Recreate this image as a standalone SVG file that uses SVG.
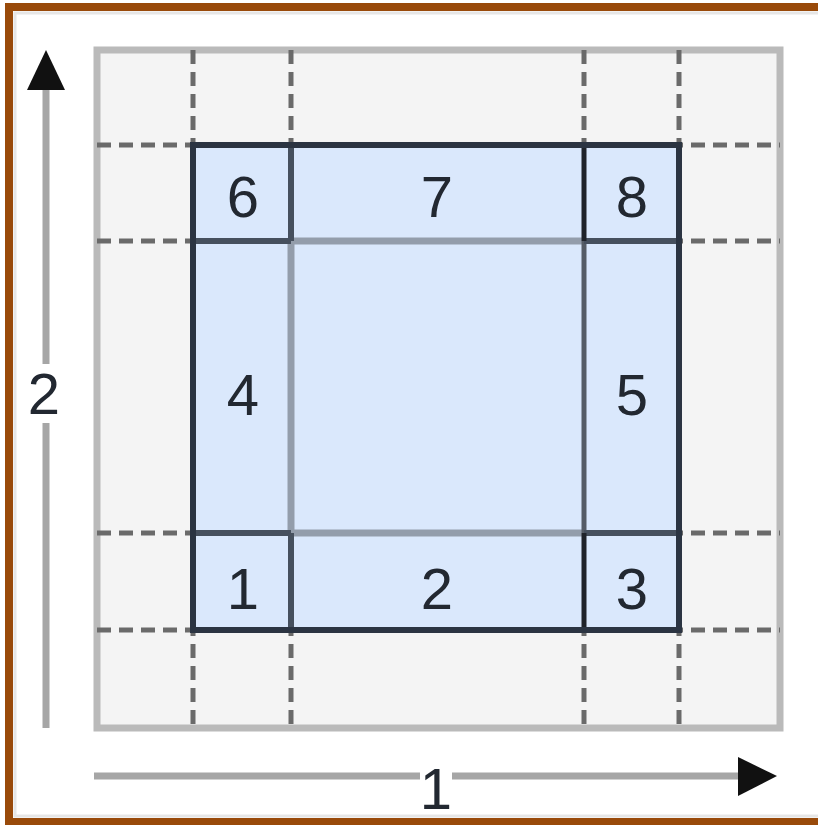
<svg xmlns="http://www.w3.org/2000/svg" width="818" height="825" viewBox="0 0 818 825">
  <defs>
    <style>
      .lbl { font-family: "Liberation Sans", Arial, sans-serif; font-size: 58px; fill: #222831; text-anchor: middle; dominant-baseline: central; }
      .dash { stroke: #6a6a6a; stroke-width: 5; stroke-dasharray: 14 8; fill: none; }
      .edge-dark { stroke: #2b3442; stroke-width: 6; fill: none; stroke-linecap: square; }
      .edge-mid { stroke: #46505e; stroke-width: 6; fill: none; }
      .edge-light { stroke: #939dab; stroke-width: 7; fill: none; }
      .axis { stroke: #a6a6a6; stroke-width: 7; fill: none; }
      .head { fill: #111111; }
    </style>
  </defs>
  <rect x="0" y="0" width="818" height="825" fill="#ffffff"/>
  <!-- frame -->
  <rect x="15" y="13" width="830" height="803" fill="none" stroke="#e6e6e6" stroke-width="3"/>
  <rect x="9" y="7" width="830" height="815" fill="none" stroke="#994a0a" stroke-width="8"/>

  <!-- outer region -->
  <g id="outer">
    <rect x="97" y="50" width="683" height="678" fill="#f4f4f4" stroke="#bababa" stroke-width="7"/>
  </g>

  <!-- dashed guide lines -->
  <g id="guides">
    <line class="dash" x1="193" y1="50" x2="193" y2="728"/>
    <line class="dash" x1="291" y1="50" x2="291" y2="728"/>
    <line class="dash" x1="584" y1="50" x2="584" y2="728"/>
    <line class="dash" x1="679" y1="50" x2="679" y2="728"/>
    <line class="dash" x1="97" y1="145" x2="780" y2="145"/>
    <line class="dash" x1="97" y1="241" x2="780" y2="241"/>
    <line class="dash" x1="97" y1="533" x2="780" y2="533"/>
    <line class="dash" x1="97" y1="630" x2="780" y2="630"/>
  </g>

  <!-- inner region fill -->
  <g id="inner">
    <rect x="193" y="145" width="486" height="485" fill="#dae8fc"/>
  </g>

  <!-- cell boundaries -->
  <g id="grid">
    <line class="edge-light" x1="291" y1="241" x2="584" y2="241"/>
    <line class="edge-light" x1="291" y1="533" x2="584" y2="533"/>
    <line class="edge-light" x1="291" y1="241" x2="291" y2="533"/>
    <line stroke="#555c66" stroke-width="5" x1="584" y1="241" x2="584" y2="533"/>
    <line class="edge-mid" x1="193" y1="241" x2="291" y2="241"/>
    <line class="edge-mid" x1="584" y1="241" x2="679" y2="241"/>
    <line class="edge-mid" x1="193" y1="533" x2="291" y2="533"/>
    <line class="edge-mid" x1="584" y1="533" x2="679" y2="533"/>
    <line class="edge-mid" x1="291" y1="145" x2="291" y2="241"/>
    <line class="edge-mid" x1="291" y1="533" x2="291" y2="630"/>
    <line stroke="#1f232a" stroke-width="5" x1="584" y1="145" x2="584" y2="241"/>
    <line stroke="#1f232a" stroke-width="5" x1="584" y1="533" x2="584" y2="630"/>
    <rect class="edge-dark" x="193" y="145" width="486" height="485"/>
  </g>

  <g id="cell-1"><text class="lbl" x="243" y="588">1</text></g>
  <g id="cell-2"><text class="lbl" x="437" y="588">2</text></g>
  <g id="cell-3"><text class="lbl" x="632" y="588">3</text></g>
  <g id="cell-4"><text class="lbl" x="243" y="394">4</text></g>
  <g id="cell-5"><text class="lbl" x="632" y="394">5</text></g>
  <g id="cell-6"><text class="lbl" x="243" y="196">6</text></g>
  <g id="cell-7"><text class="lbl" x="437" y="196">7</text></g>
  <g id="cell-8"><text class="lbl" x="632" y="196">8</text></g>

  <!-- axes -->
  <g id="connectors">
    <line class="axis" x1="46" y1="88" x2="46" y2="364"/>
    <line class="axis" x1="46" y1="423" x2="46" y2="728"/>
    <polygon class="head" points="46,50 27,90 65,90"/>
    <line class="axis" x1="94" y1="776" x2="420" y2="776"/>
    <line class="axis" x1="452" y1="776" x2="742" y2="776"/>
    <polygon class="head" points="777,776 738,757 738,796"/>
  </g>
  <g id="axis-label-2"><text class="lbl" x="44" y="393">2</text></g>
  <g id="axis-label-1"><text class="lbl" x="436" y="788">1</text></g>
</svg>
